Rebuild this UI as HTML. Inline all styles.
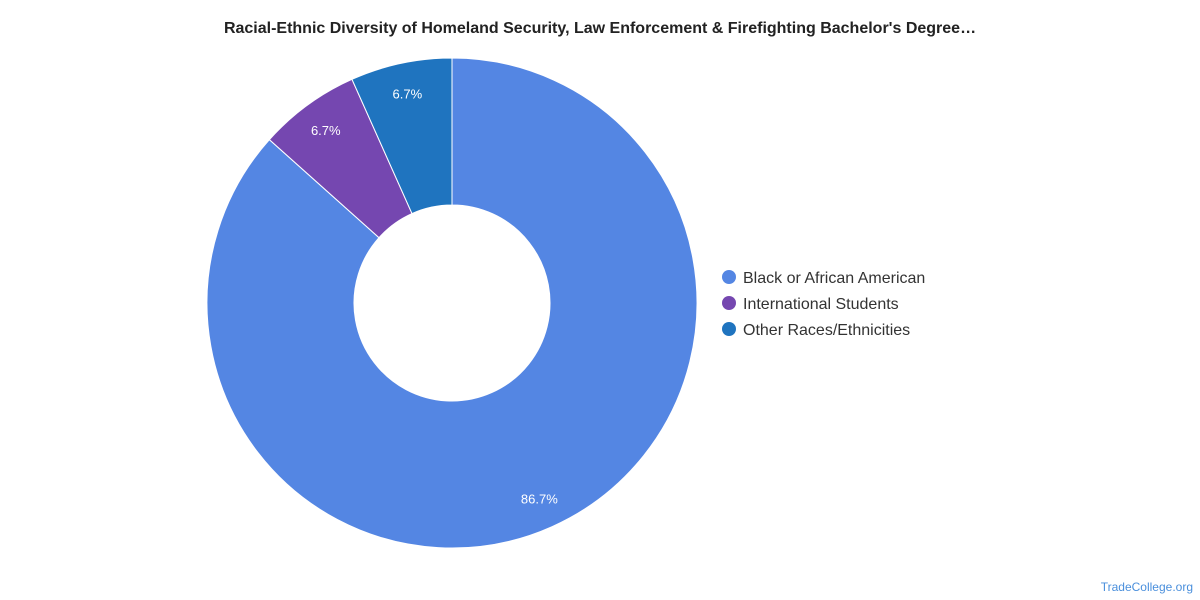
<!DOCTYPE html>
<html><head><meta charset="utf-8"><style>
body{margin:0;background:#fff;font-family:"Liberation Sans",sans-serif;}
svg{display:block}
</style></head><body>
<svg width="1200" height="600">
<text x="600" y="33" text-anchor="middle" font-size="16" font-weight="bold" fill="#222">Racial-Ethnic Diversity of Homeland Security, Law Enforcement &amp; Firefighting Bachelor's Degree…</text>
<g id="pie"></g>
<g id="legend"></g>
<text x="1193" y="591" text-anchor="end" font-size="12" fill="#4a8fdc">TradeCollege.org</text>
</svg>
<script>
const categories=["Black or African American","International Students","Other Races/Ethnicities"];
const values=[86.7,6.7,6.7];
const labels=["86.7%","6.7%","6.7%"];
const colors=["#5486e3","#7547b0","#1f74bf"];
const NS="http://www.w3.org/2000/svg";
const cx=452,cy=303,R=245,r=98,LR=214;
const total=values.reduce((a,b)=>a+b,0);
const pie=document.getElementById('pie');
function pt(rad,a){return [cx+rad*Math.sin(a),cy-rad*Math.cos(a)];}
let a0=0;
values.forEach((v,i)=>{
  const a1=a0+v/total*2*Math.PI;
  const lg=(a1-a0)>Math.PI?1:0;
  const [x0,y0]=pt(R,a0),[x1,y1]=pt(R,a1),[x2,y2]=pt(r,a1),[x3,y3]=pt(r,a0);
  const p=document.createElementNS(NS,'path');
  p.setAttribute('d',`M${x0},${y0}A${R},${R} 0 ${lg} 1 ${x1},${y1}L${x2},${y2}A${r},${r} 0 ${lg} 0 ${x3},${y3}Z`);
  p.setAttribute('fill',colors[i]);p.setAttribute('stroke','#fff');p.setAttribute('stroke-width','1');
  
  
  pie.appendChild(p);
  const [lx,ly]=pt(LR,(a0+a1)/2);
  const t=document.createElementNS(NS,'text');
  t.setAttribute('x',lx);t.setAttribute('y',ly+5);t.setAttribute('text-anchor','middle');
  t.setAttribute('font-size','13');t.setAttribute('fill','#fff');
  t.textContent=labels[i];
  
  
  pie.appendChild(t);
  a0=a1;
});
const lg=document.getElementById('legend');
categories.forEach((c,i)=>{
  const y=277+i*26;
  const ci=document.createElementNS(NS,'circle');
  ci.setAttribute('cx',729);ci.setAttribute('cy',y);ci.setAttribute('r',7);ci.setAttribute('fill',colors[i]);
  
  
  lg.appendChild(ci);
  const t=document.createElementNS(NS,'text');
  t.setAttribute('x',743);t.setAttribute('y',y+6);t.setAttribute('font-size','16');t.setAttribute('fill','#333');
  t.textContent=c;
  
  
  lg.appendChild(t);
});
</script>
</body></html>
